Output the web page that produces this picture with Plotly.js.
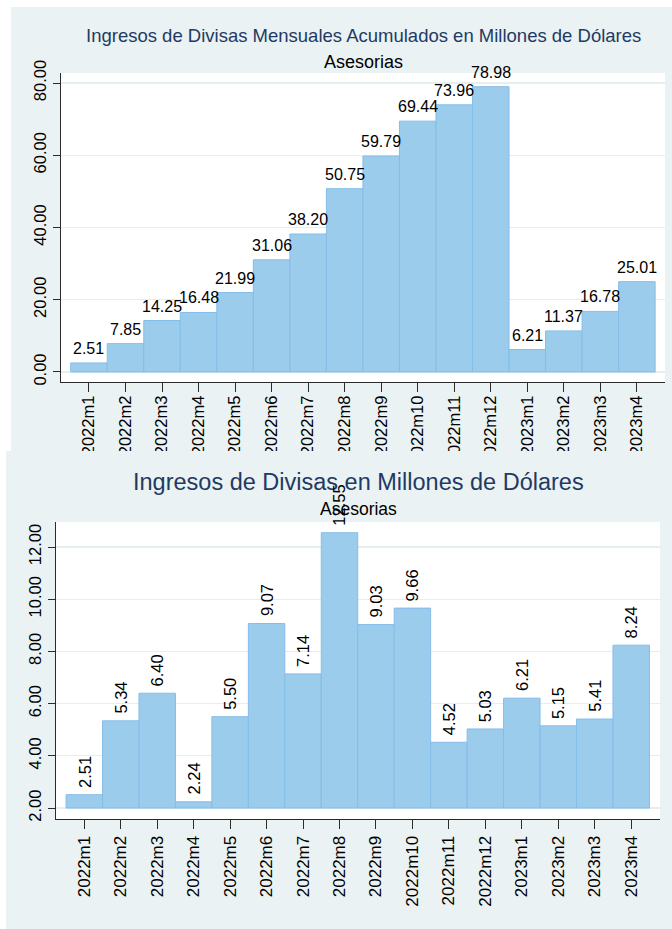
<!DOCTYPE html>
<html>
<head>
<meta charset="utf-8">
<script src="https://cdn.plot.ly/plotly-3.0.1.min.js"></script>
<style>
  html, body { margin: 0; padding: 0; background: #ffffff; }
  body { width: 672px; height: 929px; position: relative; overflow: hidden; }
  #top { position: absolute; left: 11px; top: 7px; width: 661px; height: 444px; }
  #bottom { position: absolute; left: 6px; top: 451px; width: 666px; height: 478px; }
</style>
</head>
<body>
<div id="top"></div>
<div id="bottom"></div>
<script>
// ---- Data ----
const months = ["2022m1","2022m2","2022m3","2022m4","2022m5","2022m6","2022m7","2022m8",
                "2022m9","2022m10","2022m11","2022m12","2023m1","2023m2","2023m3","2023m4"];
const acumulado = [2.51, 7.85, 14.25, 16.48, 21.99, 31.06, 38.20, 50.75,
                   59.79, 69.44, 73.96, 78.98, 6.21, 11.37, 16.78, 25.01];
const mensual = [2.51, 5.34, 6.40, 2.24, 5.50, 9.07, 7.14, 12.55,
                 9.03, 9.66, 4.52, 5.03, 6.21, 5.15, 5.41, 8.24];
const topTicks = [0, 20, 40, 60, 80];
const bottomTicks = [2, 4, 6, 8, 10, 12];
const bottomBase = 2;

const title1 = "Ingresos de Divisas Mensuales Acumulados en Millones de Dólares";
const title2 = "Ingresos de Divisas en Millones de Dólares";
const subtitle = "Asesorias";

// ---- Styles ----
const FONT = "Liberation Sans, Arial, Helvetica, sans-serif";
const PANEL = "#eaf2f3";
const GRID = "#e6eef0";
const BARFILL = "rgb(155,204,236)";
const BARLINE = "rgb(132,189,232)";
const NAVY = "#1f3a63";
const AXIS = "#2b2b2b";

function xaxisCfg(range, fs, standoff) {
  return {
    type: "category", range: range, automargin: false, fixedrange: true,
    showgrid: false, zeroline: false, showline: true, linecolor: AXIS, linewidth: 1,
    ticks: "outside", ticklen: 9, tickwidth: 1, tickcolor: AXIS,
    ticklabelstandoff: standoff,
    tickangle: -90, tickfont: { family: FONT, size: fs, color: "#000" }
  };
}
function yaxisCfg(range, ticks) {
  return {
    range: range, automargin: false, fixedrange: true,
    tickvals: ticks, tickformat: ".2f",
    showgrid: true, gridcolor: GRID, gridwidth: 1.2, zeroline: false,
    showline: true, linecolor: AXIS, linewidth: 1,
    ticks: "outside", ticklen: 7, tickwidth: 1, tickcolor: AXIS,
    tickangle: -90, tickfont: { family: FONT, size: 16.5, color: "#000" }
  };
}

// ---- Top chart ----
const topAnn = [
  { xref: "paper", yref: "paper", x: 0.5, y: 1, yanchor: "middle", yshift: 38, showarrow: false,
    text: title1, font: { family: FONT, size: 18.5, color: NAVY } },
  { xref: "paper", yref: "paper", x: 0.5, y: 1, yanchor: "middle", yshift: 11, showarrow: false,
    text: subtitle, font: { family: FONT, size: 18, color: "#000" } }
].concat(months.map((m, i) => ({
  x: m, y: acumulado[i], xref: "x", yref: "y", showarrow: false,
  yanchor: "bottom", xanchor: "center", yshift: 4,
  text: acumulado[i].toFixed(2), font: { family: FONT, size: 16, color: "#000" }
})));

Plotly.newPlot("top", [{
  type: "bar", x: months, y: acumulado,
  marker: { color: BARFILL, line: { color: BARLINE, width: 1 } },
  hoverinfo: "x+y"
}], {
  width: 661, height: 444,
  margin: { l: 50, r: 7, t: 66, b: 69, pad: 0 },
  paper_bgcolor: PANEL, plot_bgcolor: "#ffffff",
  bargap: 0, showlegend: false,
  font: { family: FONT, color: "#000" },
  xaxis: xaxisCfg([-0.766, 15.77], 16.5, -3),
  yaxis: yaxisCfg([-2.77, 82.77], topTicks),
  annotations: topAnn
}, { staticPlot: true, displayModeBar: false });

// ---- Bottom chart ----
const botAnn = [
  { xref: "paper", yref: "paper", x: 0.5, y: 1, yanchor: "middle", yshift: 40, showarrow: false,
    text: title2, font: { family: FONT, size: 23.5, color: NAVY } },
  { xref: "paper", yref: "paper", x: 0.5, y: 1, yanchor: "middle", yshift: 13, showarrow: false,
    text: subtitle, font: { family: FONT, size: 17.5, color: "#000" } }
].concat(months.map((m, i) => ({
  x: m, y: mensual[i], xref: "x", yref: "y", showarrow: false,
  yanchor: "bottom", xanchor: "center", yshift: 5, textangle: -90,
  text: mensual[i].toFixed(2), font: { family: FONT, size: 16.5, color: "#000" }
})));

Plotly.newPlot("bottom", [{
  type: "bar", x: months, y: mensual.map(v => v - bottomBase), base: bottomBase,
  marker: { color: BARFILL, line: { color: BARLINE, width: 1 } },
  hoverinfo: "x"
}], {
  width: 666, height: 478,
  margin: { l: 50, r: 12, t: 71, b: 110, pad: 0 },
  paper_bgcolor: PANEL, plot_bgcolor: "#ffffff",
  bargap: 0, showlegend: false,
  font: { family: FONT, color: "#000" },
  xaxis: xaxisCfg([-0.776, 15.79], 17, 0),
  yaxis: yaxisCfg([1.58, 12.96], bottomTicks),
  annotations: botAnn
}, { staticPlot: true, displayModeBar: false });
</script>
</body>
</html>
